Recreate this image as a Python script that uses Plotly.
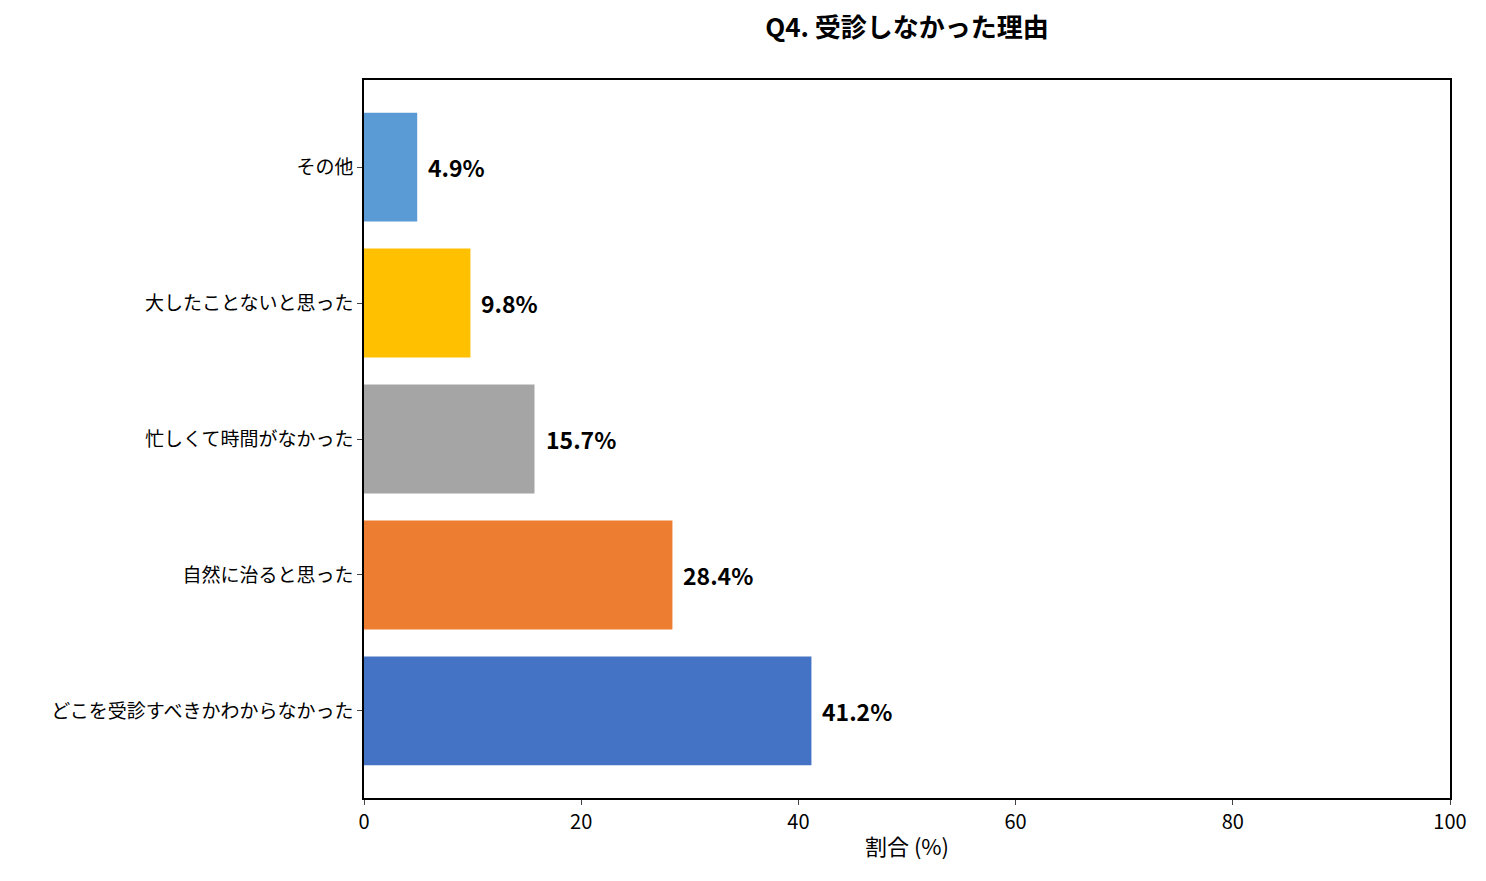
import plotly.graph_objects as go

categories = ["どこを受診すべきかわからなかった", "自然に治ると思った", "忙しくて時間がなかった",
              "大したことないと思った", "その他"]
values = [41.2, 28.4, 15.7, 9.8, 4.9]
colors = ["#4472C4", "#ED7D31", "#A5A5A5", "#FFC000", "#5B9BD5"]

font = "Noto Sans CJK JP"

fig = go.Figure(go.Bar(
    x=values, y=list(range(len(categories))), orientation="h", width=0.8,
    marker=dict(color=colors, line=dict(width=0)),
))

for i, v in enumerate(values):
    fig.add_annotation(x=v, y=i, text=f"<b>{v}%</b>", showarrow=False,
                       xanchor="left", xshift=9, font=dict(size=23, color="black", family=font))

# page adds ~8px offset, so margins are shifted
fig.update_layout(
    width=1486, height=881,
    margin=dict(l=356, r=44, t=72, b=91),
    paper_bgcolor="white", plot_bgcolor="white",
    font=dict(family=font, size=18, color="black"),
    title=dict(text="<b>Q4. 受診しなかった理由</b>", x=(356 + 1442) / 2 / 1486, xanchor="center",
               y=1 - 20 / 881, yanchor="middle", font=dict(size=26)),
    showlegend=False,
)
fig.update_xaxes(range=[0, 100], tickvals=[0, 20, 40, 60, 80, 100], showgrid=False, zeroline=False,
                 showline=True, linecolor="black", linewidth=1.5, mirror=True,
                 ticks="outside", ticklen=5, tickfont=dict(size=20),
                 title=dict(text="割合 (%)", font=dict(size=22), standoff=6))
fig.update_yaxes(range=[-0.64, 4.64], tickvals=list(range(len(categories))), ticktext=categories,
                 showgrid=False, zeroline=False, showline=True, linecolor="black", linewidth=1.5,
                 mirror=True, ticks="outside", ticklen=5, tickfont=dict(size=19))

fig.write_html("out.html")
